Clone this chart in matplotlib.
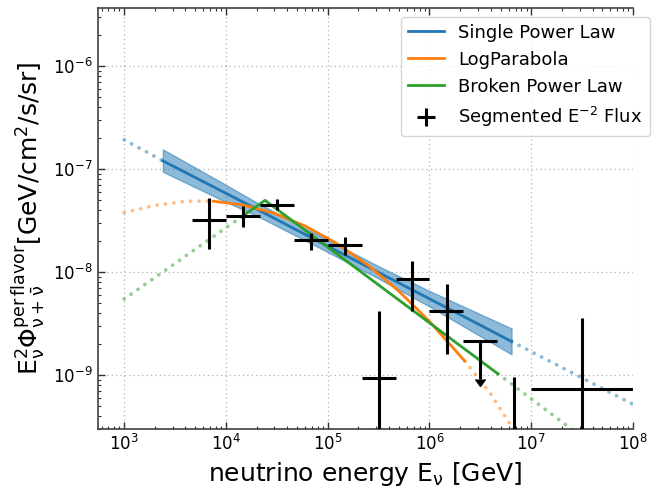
import numpy as np
import matplotlib
matplotlib.use("Agg")
import matplotlib.pyplot as plt

plt.rcParams['mathtext.default'] = 'regular'

# single power law: best fit line and its band (solid range), dotted extrapolation
spl_e = [2.4e3, 9.1e3, 2.0e4, 7.2e4, 3.16e5, 1.0e6, 2.5e6, 6.4e6]
spl_f = [1.20e-7, 6.1e-8, 4.09e-8, 2.11e-8, 9.9e-9, 5.5e-9, 3.44e-9, 2.12e-9]
spl_hi = [1.55e-7, 7.4e-8, 4.74e-8, 2.42e-8, 1.14e-8, 6.55e-9, 4.33e-9, 2.84e-9]
spl_lo = [9.4e-8, 5.0e-8, 3.52e-8, 1.85e-8, 8.65e-9, 4.63e-9, 2.73e-9, 1.59e-9]
spl_ext_lo_e = [1e3, 2.4e3]
spl_ext_lo_f = [1.92e-7, 1.20e-7]
spl_ext_hi_e = [6.4e6, 1e8]
spl_ext_hi_f = [2.12e-9, 5.2e-10]

# log parabola
lp_e = [7.5e3, 1.5e4, 3e4, 6e4, 1.2e5, 2.5e5, 5e5, 1e6, 2.22e6]
lp_f = [4.87e-8, 4.46e-8, 3.71e-8, 2.8e-8, 1.92e-8, 1.16e-8, 6.53e-9, 3.32e-9, 1.37e-9]
lp_ext_lo_e = [1e3, 2e3, 4e3, 7.5e3]
lp_ext_lo_f = [3.77e-8, 4.43e-8, 4.86e-8, 4.87e-8]
lp_ext_hi_e = [2.22e6, 4e6, 6.5e6, 8e6]
lp_ext_hi_f = [1.37e-9, 6.55e-10, 3.1e-10, 2.5e-10]

# broken power law
bpl_e = [1.43e4, 2.42e4, 4.7e6]
bpl_f = [3.44e-8, 4.96e-8, 1.03e-9]
bpl_ext_lo_e = [1e3, 1.43e4]
bpl_ext_lo_f = [5.47e-9, 3.44e-8]
bpl_ext_hi_e = [4.7e6, 3.0e7]
bpl_ext_hi_f = [1.03e-9, 2.6e-10]

# segmented E^-2 flux
seg_e = [6.8e3, 1.47e4, 3.16e4, 6.8e4, 1.47e5, 3.16e5, 6.8e5, 1.47e6, 6.8e6, 3.16e7]
seg_elo = [4.64e3, 1e4, 2.15e4, 4.64e4, 1e5, 2.15e5, 4.64e5, 1e6, 4.64e6, 1e7]
seg_ehi = [1e4, 2.15e4, 4.64e4, 1e5, 2.15e5, 4.64e5, 1e6, 2.15e6, 1e7, 1e8]
seg_f = [3.17e-8, 3.47e-8, 4.5e-8, 2.06e-8, 1.81e-8, 9.35e-10, 8.55e-9, 4.2e-9, 1.0e-10, 7.3e-10]
seg_fhi = [5.22e-8, 4.41e-8, 5.12e-8, 2.39e-8, 2.19e-8, 4.2e-9, 1.27e-8, 7.64e-9, 9.5e-10, 3.57e-9]
seg_flo = [1.68e-8, 2.71e-8, 4.03e-8, 1.65e-8, 1.45e-8, 1e-12, 4.2e-9, 1.6e-9, 1e-12, 1e-12]

# upper limit bin
ul_e = [3.16e6]
ul_elo = [2.15e6]
ul_ehi = [4.64e6]
ul_f = [2.15e-9]
ul_arrow_end = [9.1e-10]

fig, ax = plt.subplots(figsize=(6.54, 4.91), dpi=100)
fig.subplots_adjust(left=0.1494, right=0.968, bottom=0.1263, top=0.9837)

dot = dict(ls=(0, (0.05, 2.2)), lw=2.7, alpha=0.5, dash_capstyle='round')
ax.fill_between(spl_e, spl_lo, spl_hi, color='C0', alpha=0.5, zorder=2)
ax.plot(spl_e, spl_f, color='C0', lw=2, label='Single Power Law', zorder=3)
ax.plot(spl_ext_lo_e, spl_ext_lo_f, color='C0', **dot)
ax.plot(spl_ext_hi_e, spl_ext_hi_f, color='C0', **dot)

ax.plot(lp_e, lp_f, color='C1', lw=2, label='LogParabola', zorder=3)
ax.plot(lp_ext_lo_e, lp_ext_lo_f, color='C1', **dot)
ax.plot(lp_ext_hi_e, lp_ext_hi_f, color='C1', **dot)

ax.plot(bpl_e, bpl_f, color='C2', lw=2, label='Broken Power Law', zorder=3)
ax.plot(bpl_ext_lo_e, bpl_ext_lo_f, color='C2', **dot)
ax.plot(bpl_ext_hi_e, bpl_ext_hi_f, color='C2', **dot)

seg_e = np.array(seg_e)
seg_f = np.array(seg_f)
xerr = [seg_e - np.array(seg_elo), np.array(seg_ehi) - seg_e]
yerr = [seg_f - np.array(seg_flo), np.array(seg_fhi) - seg_f]
ax.errorbar(seg_e, seg_f, xerr=xerr, yerr=yerr, fmt='none', ecolor='k',
            elinewidth=2.2, label=r'Segmented E$^{-2}$ Flux', zorder=5)

ul_e = np.array(ul_e)
ul_f = np.array(ul_f)
ul = ax.errorbar(ul_e, ul_f, xerr=[ul_e - np.array(ul_elo), np.array(ul_ehi) - ul_e],
                 yerr=[ul_f - np.array(ul_arrow_end), np.zeros(1)], uplims=True,
                 fmt='none', ecolor='k', elinewidth=2.2, zorder=5)
for cap in ul[1]:
    cap.set_markersize(7)
    cap.set_color('k')
    cap.set_markerfacecolor('k')
    cap.set_markeredgecolor('k')

ax.set_xscale('log')
ax.set_yscale('log')
ax.set_xlim(5.5e2, 1e8)
ax.set_ylim(3e-10, 3.65e-6)

ax.grid(True, which='major', ls=(0, (1, 2.5)), color='0.7', lw=0.9)
ax.tick_params(which='both', direction='in', top=True, right=False, labelsize=12, color='0.2')
ax.tick_params(which='major', length=5, width=1)
ax.tick_params(which='minor', length=2.5, width=0.8)
for s in ['left', 'bottom', 'top']:
    ax.spines[s].set_color('0.25')
    ax.spines[s].set_linewidth(1.2)
ax.spines['right'].set_visible(False)

ax.set_xlabel(r'neutrino energy E$_\nu$ [GeV]', fontsize=18)
ax.set_ylabel(r'$E^2_\nu\Phi^{per\,flavor}_{\nu+\bar{\nu}}$[GeV/cm$^2$/s/sr]', fontsize=18)

leg = ax.legend(loc='upper right', bbox_to_anchor=(650 / 654, 1 - 16.5 / 491),
                bbox_transform=fig.transFigure, borderaxespad=0, fontsize=13)

plt.savefig('out.png', dpi=100)
